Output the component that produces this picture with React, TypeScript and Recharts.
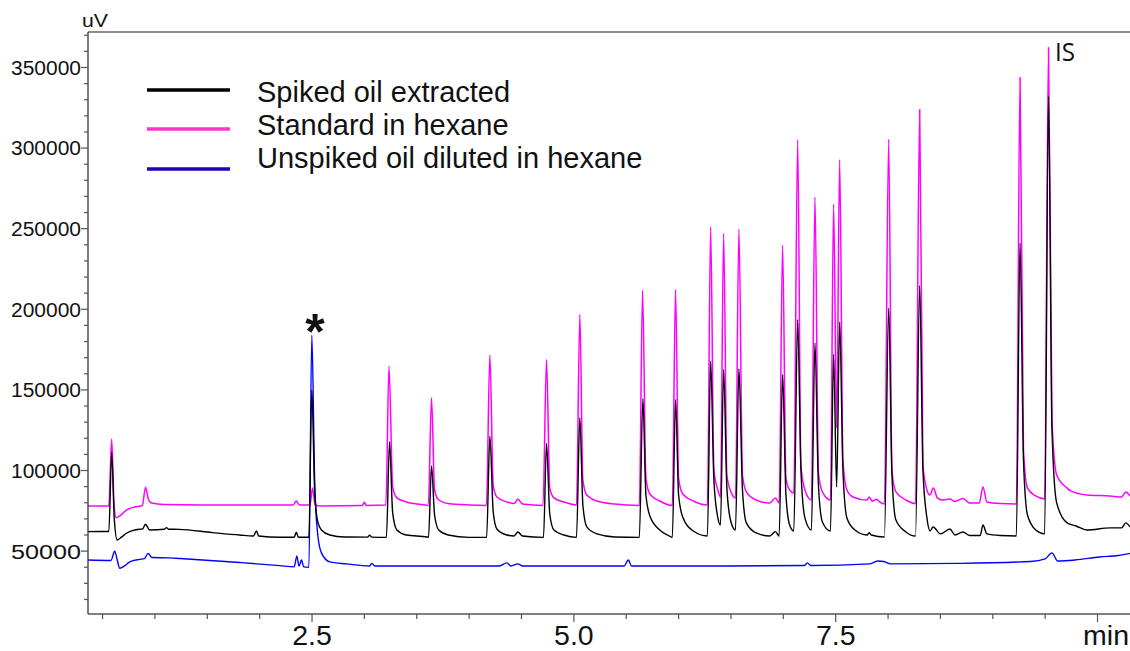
import React from 'react';
import { LineChart, Line, XAxis, YAxis, ReferenceLine } from 'recharts';

// [time (min), signal (uV)]
const spikedOil: [number, number][] = [
  [0.36, 62100], [0.56, 62200], [0.587, 111300], [0.612, 70000], [0.64, 56900], [0.683, 58800],
  [0.727, 61100], [0.854, 63600], [0.883, 63700], [0.909, 66700], [0.95, 63100], [1.09, 63600],
  [1.11, 64600], [1.13, 63600], [1.23, 63500], [1.55, 61500], [1.81, 60000], [1.94, 59400],
  [1.97, 62500], [1.99, 59400], [2.19, 58600], [2.33, 58600], [2.35, 61700], [2.37, 58600],
  [2.47, 58600], [2.498, 149900], [2.525, 87900], [2.555, 68100], [2.59, 63100], [2.67, 60000],
  [2.81, 58800], [3.03, 58700], [3.05, 59900], [3.07, 58700], [3.21, 58500], [3.24, 117800],
  [3.27, 73700], [3.31, 63100], [3.4, 60000], [3.6, 58800], [3.612, 58500], [3.641, 102800],
  [3.67, 72400], [3.71, 63100], [3.8, 60000], [4.0, 58500], [4.167, 58500], [4.198, 121400],
  [4.23, 74300], [4.265, 63700], [4.36, 60000], [4.43, 59400], [4.465, 61900], [4.51, 59400],
  [4.71, 58500], [4.739, 116800], [4.77, 73000], [4.81, 63100], [4.905, 60000], [5.025, 58500],
  [5.057, 132700], [5.086, 78600], [5.124, 65000], [5.22, 60700], [5.39, 58800], [5.625, 58500],
  [5.659, 144600], [5.688, 84800], [5.726, 71800], [5.82, 63100], [5.91, 59400], [5.94, 58500],
  [5.971, 144100], [6.0, 84800], [6.04, 71000], [6.14, 62500], [6.275, 59400], [6.306, 167800],
  [6.337, 94100], [6.375, 70600], [6.4, 66200], [6.43, 162700], [6.461, 89100], [6.5, 68100],
  [6.543, 63100], [6.576, 163100], [6.61, 87900], [6.647, 67500], [6.74, 61300], [6.87, 59400],
  [6.925, 62100], [6.96, 59400], [6.993, 159600], [7.025, 84800], [7.06, 66200], [7.1, 62500],
  [7.137, 193700], [7.168, 100300], [7.206, 70600], [7.268, 63100], [7.302, 179200], [7.335, 91000],
  [7.373, 68100], [7.45, 62500], [7.48, 172200], [7.509, 89800], [7.538, 192200], [7.569, 100300],
  [7.607, 70600], [7.684, 63100], [7.8, 60000], [7.82, 61500], [7.84, 60000], [7.965, 58800],
  [8.006, 200700], [8.037, 97200], [8.075, 69300], [8.17, 61900], [8.262, 59400], [8.302, 214700],
  [8.333, 100300], [8.371, 70600], [8.4, 62500], [8.43, 65000], [8.5, 60700], [8.59, 63700],
  [8.64, 60000], [8.715, 61900], [8.78, 59700], [8.88, 59700], [8.906, 66200], [8.944, 60700],
  [9.07, 59700], [9.225, 59400], [9.26, 241100], [9.293, 106500], [9.331, 72400], [9.41, 63100],
  [9.495, 60700], [9.532, 332000], [9.565, 125100], [9.61, 79900], [9.71, 67500], [9.795, 65600],
  [9.9, 63100], [10.12, 64400], [10.23, 64400], [10.27, 67500], [10.31, 65000],
];

const standardHexane: [number, number][] = [
  [0.36, 78000], [0.56, 78000], [0.587, 119500], [0.61, 78600], [0.63, 70700], [0.664, 71800],
  [0.727, 75500], [0.807, 77400], [0.88, 78300], [0.91, 89600], [0.94, 81700], [0.97, 79800],
  [1.09, 78900], [1.43, 78600], [2.32, 78600], [2.35, 81100], [2.38, 78600], [2.48, 78600],
  [2.505, 89100], [2.53, 78600], [2.59, 78000], [2.98, 78300], [3.0, 80300], [3.02, 78300],
  [3.205, 78600], [3.235, 164700], [3.27, 89800], [3.31, 83000], [3.4, 80500], [3.58, 78600],
  [3.61, 78300], [3.641, 145100], [3.67, 87900], [3.71, 81700], [3.8, 79500], [4.0, 78600],
  [4.165, 78300], [4.198, 171600], [4.23, 91000], [4.265, 83600], [4.36, 80500], [4.43, 79500],
  [4.465, 82300], [4.51, 79200], [4.705, 78300], [4.739, 168900], [4.77, 89100], [4.81, 83000],
  [4.905, 80500], [5.025, 78600], [5.057, 196800], [5.086, 94100], [5.124, 84800], [5.22, 81100],
  [5.39, 79200], [5.625, 78300], [5.656, 211800], [5.688, 95300], [5.726, 85400], [5.82, 81100],
  [5.94, 78300], [5.971, 212300], [6.0, 95300], [6.04, 85400], [6.14, 81100], [6.275, 78600],
  [6.306, 251000], [6.337, 100300], [6.375, 87900], [6.4, 83600], [6.43, 246900], [6.461, 97200],
  [6.5, 86700], [6.543, 83000], [6.576, 249800], [6.61, 97200], [6.647, 86700], [6.74, 81700],
  [6.87, 79800], [6.925, 83000], [6.96, 79800], [6.993, 239700], [7.025, 95300], [7.06, 87900],
  [7.1, 86000], [7.137, 305200], [7.168, 103400], [7.206, 87900], [7.268, 81700], [7.302, 269600],
  [7.335, 99100], [7.373, 86700], [7.45, 81700], [7.48, 265100], [7.509, 126300], [7.538, 292800],
  [7.569, 106500], [7.607, 87900], [7.664, 83600], [7.8, 81700], [7.82, 83600], [7.85, 81000],
  [7.89, 82200], [7.92, 80500], [7.965, 79200], [8.006, 305400], [8.037, 100300], [8.075, 86700],
  [8.17, 81700], [8.262, 79500], [8.302, 324000], [8.333, 103400], [8.371, 87900], [8.4, 84800],
  [8.433, 89100], [8.47, 83000], [8.52, 81700], [8.59, 82300], [8.64, 80800], [8.715, 82700],
  [8.78, 79800], [8.87, 79800], [8.906, 89800], [8.944, 80500], [9.07, 79500], [9.225, 79200],
  [9.26, 343800], [9.293, 112700], [9.331, 89100], [9.41, 84200], [9.495, 82300], [9.532, 362400],
  [9.565, 131300], [9.61, 97200], [9.71, 89100], [9.74, 87500], [9.9, 84800], [10.12, 84200],
  [10.23, 83600], [10.27, 86700], [10.31, 84200],
];

const unspikedOil: [number, number][] = [
  [0.36, 44500], [0.58, 44200], [0.616, 49900], [0.64, 44500], [0.664, 39400], [0.71, 40800],
  [0.76, 43400], [0.854, 44900], [0.9, 45400], [0.935, 48600], [0.97, 46000], [1.14, 45800],
  [1.24, 45400], [1.81, 42900], [2.19, 41000], [2.33, 40200], [2.355, 47000], [2.375, 40800],
  [2.4, 44500], [2.42, 40200], [2.47, 39900], [2.498, 183900], [2.525, 94100], [2.555, 60000],
  [2.59, 48900], [2.67, 43300], [2.83, 42100], [3.05, 40800], [3.07, 42400], [3.1, 40800],
  [4.29, 40800], [4.36, 42700], [4.4, 40800], [4.465, 42100], [4.51, 40800], [5.48, 40800],
  [5.52, 44500], [5.55, 40800], [6.49, 40800], [7.2, 41100], [7.23, 42700], [7.26, 41100],
  [7.83, 42100], [7.9, 43900], [7.96, 43600], [8.02, 42100], [8.69, 42400], [9.36, 43600],
  [9.5, 45200], [9.565, 48900], [9.62, 43900], [9.785, 44500], [10.02, 46400], [10.2, 47300],
  [10.31, 48600],
];

const seriesNames = ['Spiked oil extracted', 'Standard in hexane', 'Unspiked oil diluted in hexane'];

const xTicks = [0.5, 1, 1.5, 2, 2.5, 3, 3.5, 4, 4.5, 5, 5.5, 6, 6.5, 7, 7.5, 8, 8.5, 9, 9.5, 10];
const xLabelTicks = [2.5, 5, 7.5, 10];
const xLabelTexts = ['2.5', '5.0', '7.5', 'min'];

const yTicks = [
  20000, 30000, 40000, 50000, 60000, 70000, 80000, 90000, 100000, 110000, 120000, 130000,
  140000, 150000, 160000, 170000, 180000, 190000, 200000, 210000, 220000, 230000, 240000,
  250000, 260000, 270000, 280000, 290000, 300000, 310000, 320000, 330000, 340000, 350000,
  360000, 370000,
];
const yLabelTicks = [50000, 100000, 150000, 200000, 250000, 300000, 350000];

const X_DOMAIN: [number, number] = [0.361, 10.31];
const Y_DOMAIN: [number, number] = [11000, 372000];

const AXIS = '#555';
const FONT = '"Liberation Sans", Arial, sans-serif';

const toPoints = (arr: [number, number][]) => arr.map(([t, v]) => ({ t, v }));

const YTick = ({ x, y, payload }: any) => {
  const major = yLabelTicks.includes(payload.value);
  return (
    <g>
      <line x1={x - (major ? 7 : 4)} x2={x} y1={y} y2={y} stroke={AXIS} strokeWidth={1.2} />
      {major && (
        <text x={x - 7} y={y} dy="0.36em" textAnchor="end" fontSize={20.5} fontFamily={FONT}
          fill="#111" textLength={70} lengthAdjust="spacingAndGlyphs">
          {payload.value}
        </text>
      )}
    </g>
  );
};

const XTick = ({ x, y, payload }: any) => {
  const i = xLabelTicks.indexOf(payload.value);
  const major = i >= 0;
  const isUnit = xLabelTexts[i] === 'min';
  return (
    <g>
      <line x1={x} x2={x} y1={y} y2={y + (major ? 8 : 5)} stroke={AXIS} strokeWidth={1.2} />
      {major && (
        <text x={isUnit ? 1129 : x} y={645} textAnchor={isUnit ? 'end' : 'middle'} fontSize={28.5}
          fontFamily={FONT} fill="#111">
          {xLabelTexts[i]}
        </text>
      )}
    </g>
  );
};

export default function App() {
  const legendColors = ['#000000', '#ff33cc', '#2200bb'];
  const legendLineY = [90, 129, 169];
  const legendTextY = [102, 135, 168];

  return (
    <div style={{ position: 'absolute', left: 0, top: 0, width: 1130, height: 651, background: '#fff' }}>
      <LineChart width={1130} height={651} margin={{ top: 32, right: 0, bottom: 0, left: 0 }}>
        <XAxis dataKey="t" type="number" domain={X_DOMAIN} ticks={xTicks} interval={0}
          height={37} tickSize={0} tickMargin={0} tickLine={false} tick={<XTick />}
          axisLine={{ stroke: AXIS, strokeWidth: 1.3 }} allowDataOverflow />
        <YAxis type="number" domain={Y_DOMAIN} ticks={yTicks} interval={0} width={88}
          tickSize={0} tickMargin={0} tickLine={false} tick={<YTick />}
          axisLine={{ stroke: '#333', strokeWidth: 1.3 }} allowDataOverflow />
        <ReferenceLine y={Y_DOMAIN[1]} stroke="#666" strokeWidth={1.3} />
        <Line data={toPoints(standardHexane)} dataKey="v" type="monotone" stroke="#ff00ff"
          strokeWidth={1.5} dot={false} isAnimationActive={false} />
        <Line data={toPoints(unspikedOil)} dataKey="v" type="monotone" stroke="#0000ff"
          strokeWidth={1.4} dot={false} isAnimationActive={false} />
        <Line data={toPoints(spikedOil)} dataKey="v" type="monotone" stroke="#000000"
          strokeWidth={1.4} dot={false} isAnimationActive={false} />
      </LineChart>
      <svg width={1130} height={651} style={{ position: 'absolute', left: 0, top: 0, pointerEvents: 'none' }}>
        <text x={82} y={27} fontSize={19} fontFamily={FONT} fill="#111" textLength={26}
          lengthAdjust="spacingAndGlyphs">uV</text>
        {seriesNames.map((name, i) => (
          <g key={name}>
            <line x1={147} x2={230} y1={legendLineY[i]} y2={legendLineY[i]} stroke={legendColors[i]} strokeWidth={3.5} />
            <text x={257} y={legendTextY[i]} fontSize={29} fontFamily={FONT} fill="#111">{name}</text>
          </g>
        ))}
        <text x={315} y={349} textAnchor="middle" fontSize={50} fontWeight="bold" fontFamily={FONT} fill="#111">*</text>
        <text x={1055} y={61} fontSize={25} fontFamily='"Open Sans", sans-serif' fill="#111"
          textLength={20} lengthAdjust="spacingAndGlyphs">IS</text>
      </svg>
    </div>
  );
}
